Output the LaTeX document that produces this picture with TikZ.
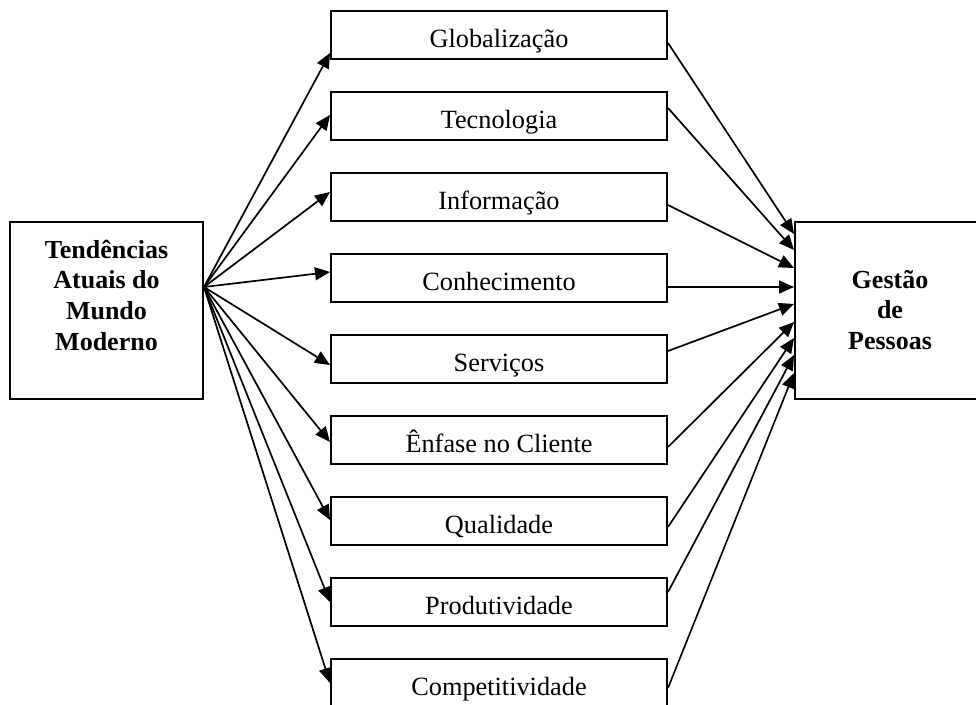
\documentclass[tikz,border=0pt]{standalone}
\usepackage{fontspec}
\setmainfont{Liberation Serif}
\usetikzlibrary{arrows.meta,calc}

\begin{document}
\begin{tikzpicture}[x=1pt,y=-1pt,
  item/.style={draw, line width=2pt, minimum width=336pt, minimum height=48pt,
    inner sep=0pt, text height=30pt, text depth=6pt,
    font=\fontsize{26.3}{30.7}\selectfont},
  bigbox/.style={draw, line width=2pt, inner sep=0pt, minimum height=177pt,
    text height=30pt, font=\fontsize{26}{30.7}\selectfont\bfseries},
  link/.style={line width=1.7pt, -{Triangle[length=15pt,width=13pt]}}]
\useasboundingbox (0,0) rectangle (976,704);

% source and target boxes
\node[bigbox, minimum width=193pt, text depth=135pt] (tend) at (106.5,310.5)
  {\begin{tabular}[t]{@{}c@{}}Tendências\\Atuais do\\Mundo\\Moderno\end{tabular}};
\node[bigbox, minimum width=190pt, text depth=75pt] (gest) at (890,310.5)
  {\begin{tabular}[t]{@{}c@{}}Gestão\\de\\Pessoas\end{tabular}};

% the nine trends
\node[item] (glob) at (499,35)  {Globalização};
\node[item] (tecn) at (499,116) {Tecnologia};
\node[item] (info) at (499,197) {Informação};
\node[item] (conh) at (499,278) {Conhecimento};
\node[item] (serv) at (499,359) {Serviços};
\node[item] (enfa) at (499,440) {Ênfase no Cliente};
\node[item] (qual) at (499,521) {Qualidade};
\node[item] (prod) at (499,602) {Produtividade};
\node[item] (comp) at (499,683) {Competitividade};

% connectors: offsets of the attachment points along the box edges
\foreach \n/\a/\b/\c in {glob/18/8/-76.5, tecn/-1/-8/-60.5, info/-5/8/-42.5,
    conh/-6/9/-23.5, serv/6/-8/-6.5, enfa/2/7/11.5, qual/-1/6/27.5,
    prod/0/-10/44.5, comp/0/5/62.5}{
  \draw[link] ($(tend.east)+(0,-23.5)$) -- ($(\n.west)+(0,\a)$);
  \draw[link] ($(\n.east)+(0,\b)$) -- ($(gest.west)+(0,\c)$);
}
\end{tikzpicture}
\end{document}
